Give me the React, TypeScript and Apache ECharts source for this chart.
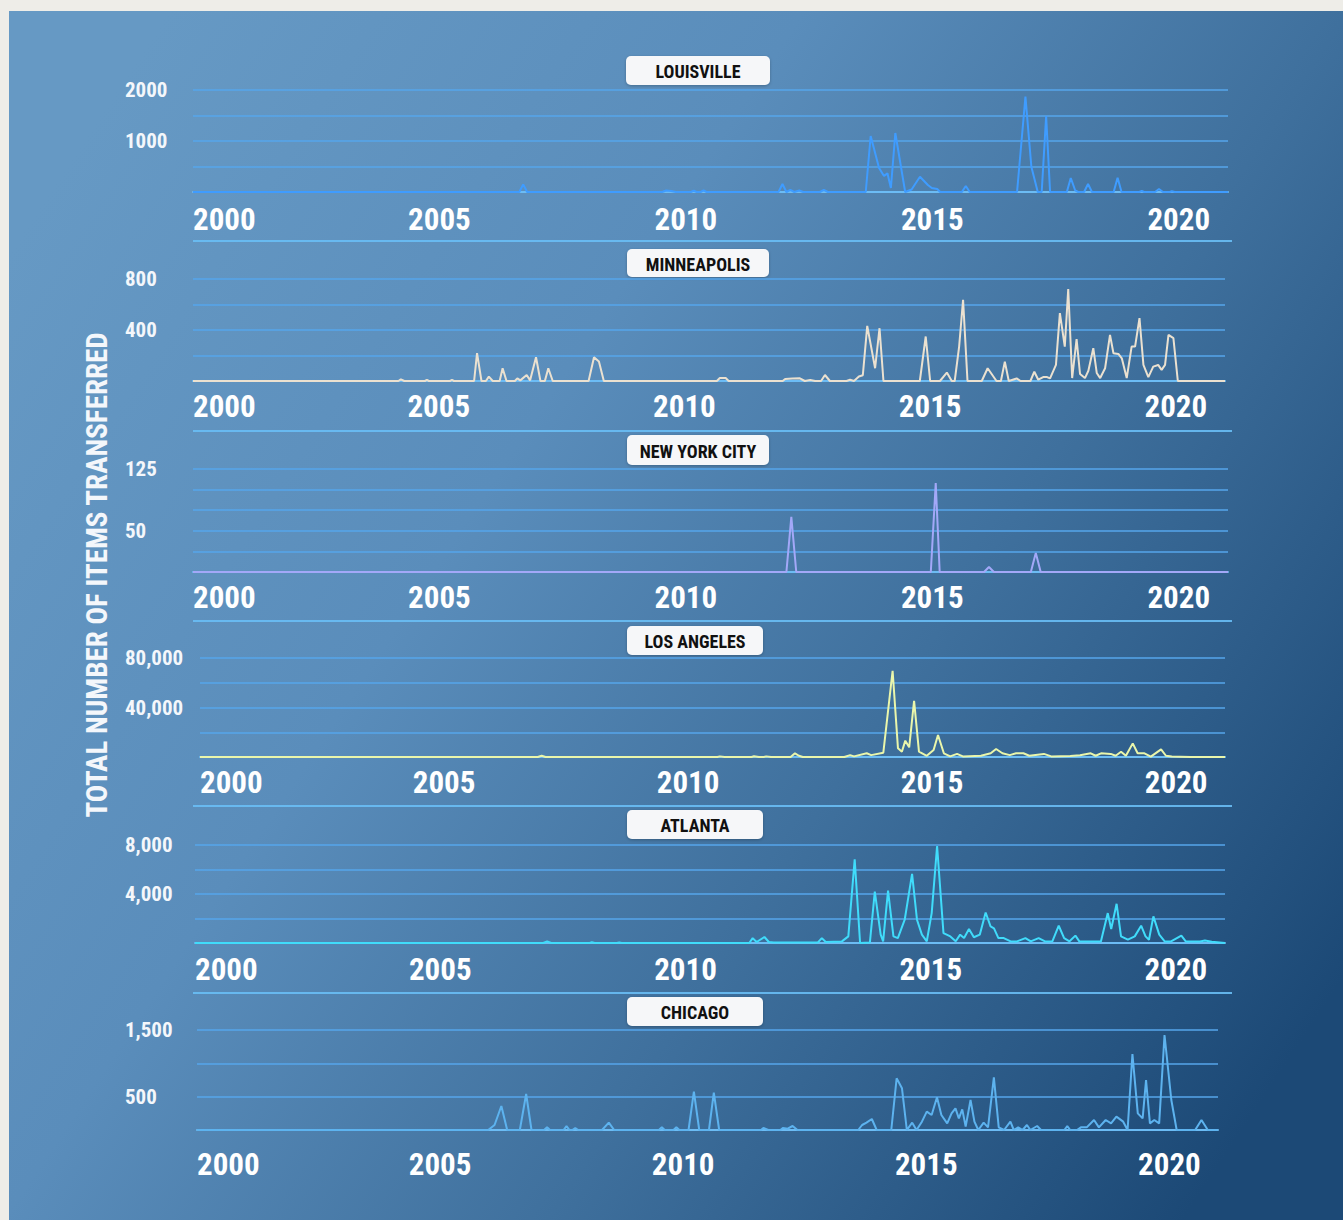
import React, { useEffect, useRef } from 'react';
import * as echarts from 'echarts';

const FONT = "'Roboto Condensed', 'Liberation Sans Narrow', Roboto, 'Noto Sans', sans-serif";

const Y_TITLE = 'TOTAL NUMBER OF ITEMS TRANSFERRED';
const X_TICKS = [2000, 2005, 2010, 2015, 2020];
const X_MIN = 2000;
const X_MAX = 2021;

const CITIES = ['LOUISVILLE', 'MINNEAPOLIS', 'NEW YORK CITY', 'LOS ANGELES', 'ATLANTA', 'CHICAGO'];
const Y_MAX = [2000, 800, 125, 80000, 8000, 1500];
const Y_STEP = [500, 200, 25, 20000, 2000, 500];

const LOUISVILLE_Y_LABELS: [number, string][] = [[1000, '1000'], [2000, '2000']];
const MINNEAPOLIS_Y_LABELS: [number, string][] = [[400, '400'], [800, '800']];
const NYC_Y_LABELS: [number, string][] = [[50, '50'], [125, '125']];
const LA_Y_LABELS: [number, string][] = [[40000, '40,000'], [80000, '80,000']];
const ATLANTA_Y_LABELS: [number, string][] = [[4000, '4,000'], [8000, '8,000']];
const CHICAGO_Y_LABELS: [number, string][] = [[500, '500'], [1500, '1,500']];

// [year, items transferred]
const LOUISVILLE: [number, number][] = [
  [2000, 0], [2006.62, 0], [2006.7, 150], [2006.78, 0],
  [2009.52, 0], [2009.6, 30], [2009.7, 20], [2009.8, 0], [2010.1, 0], [2010.16, 25], [2010.22, 0], [2010.3, 0], [2010.36, 30], [2010.42, 0],
  [2011.88, 0], [2011.96, 157], [2012.04, 0], [2012.12, 40], [2012.2, 0], [2012.3, 30], [2012.38, 0],
  [2012.72, 0], [2012.8, 40], [2012.88, 0],
  [2013.65, 0], [2013.75, 1098], [2013.92, 470], [2014.02, 314], [2014.09, 366], [2014.16, 78], [2014.25, 1157], [2014.45, 0],
  [2014.58, 50], [2014.75, 300], [2014.91, 137], [2014.99, 78], [2015.1, 59], [2015.16, 0],
  [2015.6, 0], [2015.68, 118], [2015.76, 0],
  [2016.72, 0], [2016.89, 1869], [2017.01, 497], [2017.14, 0], [2017.22, 0], [2017.31, 1490], [2017.39, 0],
  [2017.73, 0], [2017.81, 275], [2017.9, 30], [2017.96, 0],
  [2018.08, 0], [2018.16, 157], [2018.24, 0],
  [2018.68, 0], [2018.76, 280], [2018.84, 0],
  [2019.2, 0], [2019.25, 20], [2019.3, 0],
  [2019.52, 0], [2019.6, 60], [2019.68, 0],
  [2019.82, 0], [2019.86, 15], [2019.92, 0],
  [2021, 0],
];

const MINNEAPOLIS: [number, number][] = [
  [2000, 0], [2004.18, 0], [2004.23, 13], [2004.3, 0], [2004.72, 0], [2004.76, 8], [2004.8, 0], [2005.23, 0], [2005.27, 8], [2005.31, 0],
  [2005.72, 0], [2005.78, 218], [2005.87, 0], [2005.96, 0], [2006.02, 34], [2006.1, 0], [2006.24, 0], [2006.3, 100], [2006.38, 0],
  [2006.55, 0], [2006.6, 21], [2006.66, 5], [2006.79, 47], [2006.86, 5], [2006.98, 186], [2007.07, 0], [2007.16, 0], [2007.23, 100], [2007.32, 0],
  [2008.05, 0], [2008.16, 186], [2008.26, 152], [2008.36, 0],
  [2010.66, 0], [2010.72, 23], [2010.84, 23], [2010.9, 0],
  [2012.0, 0], [2012.05, 16], [2012.2, 20], [2012.35, 21], [2012.45, 0], [2012.56, 8], [2012.66, 0], [2012.78, 0], [2012.86, 47], [2012.96, 0],
  [2013.3, 0], [2013.37, 10], [2013.45, 0], [2013.55, 35], [2013.63, 45], [2013.72, 432], [2013.88, 100], [2013.97, 414], [2014.05, 0],
  [2014.79, 0], [2014.91, 349], [2015.0, 0], [2015.2, 0], [2015.34, 66], [2015.44, 0], [2015.5, 0], [2015.59, 270], [2015.67, 637], [2015.76, 0],
  [2016.05, 0], [2016.17, 100], [2016.35, 0], [2016.44, 0], [2016.52, 152], [2016.6, 0], [2016.76, 20], [2016.84, 0],
  [2017.04, 0], [2017.12, 73], [2017.2, 10], [2017.3, 31], [2017.38, 31], [2017.44, 20], [2017.56, 126], [2017.64, 532], [2017.74, 270],
  [2017.81, 721], [2017.89, 23], [2017.98, 328], [2018.05, 55], [2018.15, 23], [2018.22, 80], [2018.32, 257], [2018.39, 63], [2018.46, 23],
  [2018.56, 100], [2018.66, 362], [2018.73, 218], [2018.83, 212], [2018.9, 178], [2019.0, 23], [2019.1, 270], [2019.17, 270], [2019.26, 493],
  [2019.34, 126], [2019.44, 30], [2019.54, 113], [2019.64, 126], [2019.71, 87], [2019.78, 126], [2019.85, 362], [2019.95, 336], [2020.04, 0],
  [2021, 0],
];

const NEW_YORK: [number, number][] = [
  [2000, 0], [2012.04, 0], [2012.14, 67], [2012.24, 0], [2014.97, 0], [2015.07, 108], [2015.15, 0],
  [2016.05, 0], [2016.15, 6], [2016.25, 0], [2017.0, 0], [2017.1, 23], [2017.2, 0], [2021, 0],
];

const LOS_ANGELES: [number, number][] = [
  [2000, 0], [2006.92, 0], [2007.0, 1000], [2007.08, 0], [2010.6, 0], [2010.65, 500], [2010.75, 0], [2011.3, 0], [2011.35, 600], [2011.45, 0],
  [2011.55, 0], [2011.6, 500], [2011.7, 0],
  [2012.1, 0], [2012.19, 3000], [2012.27, 1000], [2012.35, 0], [2013.2, 0], [2013.32, 1500], [2013.4, 500], [2013.66, 3000], [2013.75, 1500],
  [2014.0, 3500], [2014.19, 69700], [2014.3, 7000], [2014.38, 4300], [2014.45, 13200], [2014.53, 7800], [2014.63, 45300], [2014.73, 4300],
  [2014.89, 1000], [2015.03, 5700], [2015.12, 17800], [2015.24, 3000], [2015.37, 500], [2015.51, 2500], [2015.63, 500], [2016.0, 1000],
  [2016.2, 3000], [2016.31, 6500], [2016.44, 3000], [2016.59, 1500], [2016.72, 3000], [2016.87, 3000], [2016.99, 1000], [2017.29, 2500],
  [2017.44, 500], [2017.83, 800], [2018.03, 1500], [2018.25, 3000], [2018.35, 1000], [2018.46, 3000], [2018.66, 2500], [2018.76, 1000],
  [2018.87, 4300], [2018.97, 1000], [2019.11, 11000], [2019.21, 3000], [2019.35, 3000], [2019.48, 300], [2019.69, 6200], [2019.79, 1000],
  [2019.91, 500], [2020.08, 300], [2020.3, 0], [2021, 0],
];

const ATLANTA: [number, number][] = [
  [2000, 0], [2007.1, 0], [2007.18, 136], [2007.26, 0], [2008.05, 0], [2008.09, 60], [2008.15, 0], [2008.6, 0], [2008.65, 40], [2008.7, 0],
  [2011.3, 0], [2011.37, 400], [2011.45, 80], [2011.61, 490], [2011.7, 80], [2011.8, 50], [2012.7, 50], [2012.78, 400], [2012.86, 80],
  [2013.19, 130], [2013.32, 540], [2013.45, 6830], [2013.56, 0], [2013.76, 50], [2013.86, 4200], [2013.98, 680], [2014.03, 140],
  [2014.13, 4280], [2014.24, 540], [2014.33, 400], [2014.47, 1900], [2014.62, 5640], [2014.72, 1900], [2014.82, 680], [2014.92, 140],
  [2015.02, 2440], [2015.13, 7920], [2015.26, 810], [2015.4, 540], [2015.51, 140], [2015.6, 680], [2015.68, 400], [2015.78, 1140],
  [2015.88, 470], [2016.0, 680], [2016.12, 2490], [2016.22, 1360], [2016.29, 1200], [2016.38, 400], [2016.49, 400], [2016.63, 130],
  [2016.76, 130], [2016.93, 400], [2017.04, 130], [2017.2, 400], [2017.33, 130], [2017.48, 140], [2017.61, 1410], [2017.72, 400],
  [2017.83, 140], [2017.95, 600], [2018.03, 130], [2018.47, 130], [2018.61, 2440], [2018.68, 1140], [2018.79, 3200], [2018.88, 540],
  [2019.02, 270], [2019.16, 540], [2019.29, 1410], [2019.38, 540], [2019.45, 270], [2019.54, 2170], [2019.66, 680], [2019.77, 130],
  [2019.9, 130], [2020.11, 600], [2020.2, 130], [2020.49, 130], [2020.59, 200], [2020.73, 100], [2021, 0],
];

const CHICAGO: [number, number][] = [
  [2000, 0], [2005.99, 0], [2006.12, 75], [2006.26, 360], [2006.38, 0], [2006.64, 0], [2006.77, 540], [2006.88, 0],
  [2007.14, 0], [2007.2, 40], [2007.26, 0], [2007.54, 0], [2007.6, 60], [2007.66, 0], [2007.72, 0], [2007.78, 30], [2007.84, 0],
  [2008.33, 0], [2008.47, 110], [2008.58, 0], [2009.5, 0], [2009.56, 40], [2009.62, 0], [2009.8, 0], [2009.86, 40], [2009.92, 0],
  [2010.11, 0], [2010.22, 575], [2010.33, 0], [2010.53, 0], [2010.63, 560], [2010.74, 0],
  [2011.6, 0], [2011.65, 30], [2011.75, 0], [2012.0, 0], [2012.05, 30], [2012.15, 20], [2012.25, 60], [2012.35, 0],
  [2013.6, 0], [2013.68, 75], [2013.77, 110], [2013.88, 165], [2013.98, 0], [2014.28, 0], [2014.39, 775], [2014.5, 625], [2014.6, 0],
  [2014.71, 110], [2014.8, 0], [2014.91, 125], [2015.01, 275], [2015.11, 225], [2015.22, 490], [2015.31, 225], [2015.43, 100],
  [2015.52, 250], [2015.6, 325], [2015.67, 175], [2015.74, 310], [2015.81, 50], [2015.91, 450], [2015.99, 125], [2016.07, 0],
  [2016.18, 110], [2016.27, 40], [2016.39, 790], [2016.49, 40], [2016.6, 0], [2016.73, 125], [2016.8, 0], [2016.89, 40], [2016.98, 0],
  [2017.07, 75], [2017.14, 0], [2017.28, 60], [2017.36, 0],
  [2017.84, 0], [2017.9, 60], [2017.96, 0], [2018.1, 0], [2018.18, 40], [2018.3, 40], [2018.45, 150], [2018.55, 40], [2018.69, 150],
  [2018.8, 100], [2018.91, 200], [2019.05, 125], [2019.14, 0], [2019.24, 1140], [2019.35, 250], [2019.45, 175], [2019.52, 750],
  [2019.6, 100], [2019.69, 150], [2019.79, 100], [2019.9, 1425], [2020.04, 450], [2020.15, 0], [2020.53, 0], [2020.66, 150],
  [2020.79, 0], [2021, 0],
];

const SERIES_DATA = [LOUISVILLE, MINNEAPOLIS, NEW_YORK, LOS_ANGELES, ATLANTA, CHICAGO];
const Y_LABELS = [LOUISVILLE_Y_LABELS, MINNEAPOLIS_Y_LABELS, NYC_Y_LABELS, LA_Y_LABELS, ATLANTA_Y_LABELS, CHICAGO_Y_LABELS];

// ---- layout & style (kept apart from the data) ----
const W = 1343;
const H = 1220;
const LINE_COLORS = ['#3f9cff', '#ebe1d0', '#a3a8f8', '#eaf6ab', '#40dcfb', '#5db3ef'];
const PANELS = [
  { top: 90, height: 102, left: 193, right: 115, xMargin: 12, box: { x: 626, y: 56, w: 144, h: 29 } },
  { top: 279, height: 102, left: 193, right: 118, xMargin: 10, box: { x: 627, y: 249, w: 142, h: 28 } },
  { top: 469, height: 103, left: 193, right: 115, xMargin: 10, box: { x: 627, y: 435, w: 142, h: 30 } },
  { top: 658, height: 99, left: 200, right: 118, xMargin: 10, box: { x: 627, y: 626, w: 136, h: 29 } },
  { top: 845, height: 98, left: 195, right: 118, xMargin: 11, box: { x: 627, y: 810, w: 136, h: 29 } },
  { top: 1030, height: 100, left: 197, right: 125, xMargin: 19, box: { x: 627, y: 997, w: 136, h: 29 } },
];
const SEPARATORS = [241, 431, 621, 806, 993];
const Y_LABEL_X = 125;

export default function App() {
  const ref = useRef<HTMLDivElement>(null);

  useEffect(() => {
    if (!ref.current) return;
    const chart = echarts.init(ref.current, undefined, { renderer: 'svg' });

    const grid = PANELS.map((p) => ({ top: p.top, height: p.height, left: p.left, right: p.right }));

    const xAxis = PANELS.map((p, i) => ({
      type: 'value',
      gridIndex: i,
      min: X_MIN,
      max: X_MAX,
      interval: 5,
      axisLine: { show: true, lineStyle: { color: 'rgba(110,190,245,0.95)', width: 2 } },
      axisTick: { show: false },
      splitLine: { show: false },
      axisLabel: {
        show: true,
        margin: p.xMargin,
        color: '#ffffff',
        fontFamily: FONT,
        fontWeight: 'bold',
        fontSize: 31,
        showMaxLabel: false,
        alignMinLabel: 'left',
        formatter: (v: number) => (X_TICKS.includes(v) ? String(v) : ''),
      },
    }));

    const yAxis = PANELS.map((p, i) => ({
      type: 'value',
      gridIndex: i,
      min: 0,
      max: Y_MAX[i],
      interval: Y_STEP[i],
      axisLine: { show: false },
      axisTick: { show: false },
      splitLine: { show: true, lineStyle: { color: 'rgba(85,165,235,0.75)', width: 2 } },
      axisLabel: {
        show: true,
        align: 'left',
        margin: p.left - Y_LABEL_X,
        color: '#f4f7fb',
        fontFamily: FONT,
        fontWeight: 'bold',
        fontSize: 21,
        formatter: (v: number) => {
          const hit = Y_LABELS[i].find((t) => t[0] === v);
          return hit ? hit[1] : '';
        },
      },
    }));

    const series = SERIES_DATA.map((d, i) => ({
      name: CITIES[i],
      type: 'line',
      xAxisIndex: i,
      yAxisIndex: i,
      data: d,
      showSymbol: false,
      symbol: 'none',
      lineStyle: { color: LINE_COLORS[i], width: 2 },
      z: 3,
    }));

    const graphic: any[] = [
      { type: 'rect', z: -20, shape: { x: 0, y: 0, width: W, height: H }, style: { fill: '#eeede8' } },
      {
        type: 'rect',
        z: -19,
        shape: { x: 9, y: 11, width: W - 9, height: H - 11 },
        style: {
          fill: new echarts.graphic.LinearGradient(0, 0.2, 1, 0.8, [
            { offset: 0, color: '#6699c4' },
            { offset: 0.35, color: '#5a8dbb' },
            { offset: 0.65, color: '#3f709d' },
            { offset: 1, color: '#1c4976' },
          ]),
        },
      },
      ...SEPARATORS.map((y) => ({
        type: 'line',
        z: 1,
        shape: { x1: 193, y1: y, x2: 1232, y2: y },
        style: { stroke: 'rgba(105,190,245,0.9)', lineWidth: 2 },
      })),
      ...PANELS.map((p, i) => ({
        type: 'group',
        z: 10,
        children: [
          {
            type: 'rect',
            shape: { x: p.box.x, y: p.box.y, width: p.box.w, height: p.box.h, r: 5 },
            style: { fill: '#f6f7f9', shadowBlur: 3, shadowColor: 'rgba(0,0,0,0.25)', shadowOffsetY: 1 },
          },
          {
            type: 'text',
            x: p.box.x + p.box.w / 2,
            y: p.box.y + p.box.h / 2 + 1,
            style: {
              text: CITIES[i],
              fill: '#111111',
              font: `bold 18px ${FONT}`,
              align: 'center',
              verticalAlign: 'middle',
            },
          },
        ],
      })),
      {
        type: 'text',
        z: 10,
        x: 97,
        y: 575,
        rotation: Math.PI / 2,
        style: {
          text: Y_TITLE,
          fill: '#f4f7fb',
          font: `bold 29px ${FONT}`,
          align: 'center',
          verticalAlign: 'middle',
        },
      },
    ];

    chart.setOption({
      animation: false,
      grid,
      xAxis,
      yAxis,
      series,
      graphic,
    } as any);

    return () => chart.dispose();
  }, []);

  return (
    <div
      ref={ref}
      style={{ position: 'absolute', left: 0, top: 0, width: W, height: H }}
    />
  );
}
